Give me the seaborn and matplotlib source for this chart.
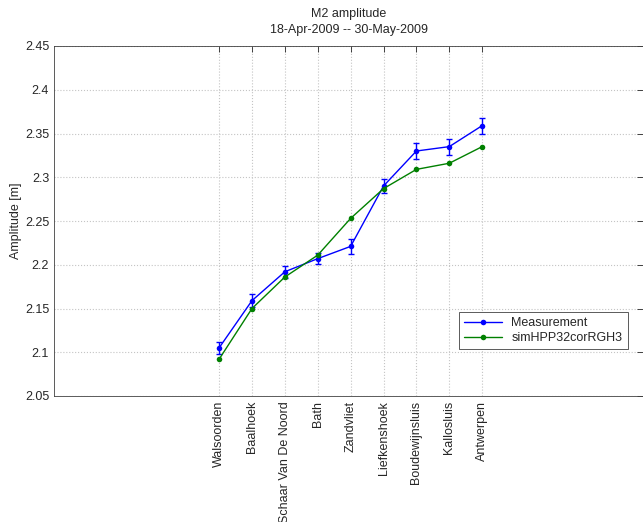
import numpy as np
import pandas as pd
import matplotlib
matplotlib.use('Agg')
import matplotlib.pyplot as plt
import seaborn as sns

stations = ['Walsoorden', 'Baalhoek', 'Schaar Van De Noord', 'Bath', 'Zandvliet',
            'Liefkenshoek', 'Boudewijnsluis', 'Kallosluis', 'Antwerpen']
meas = [2.105, 2.159, 2.192, 2.207, 2.221, 2.290, 2.330, 2.335, 2.359]
meas_err = [0.007, 0.0075, 0.007, 0.006, 0.009, 0.0085, 0.009, 0.009, 0.009]
sim = [2.092, 2.150, 2.186, 2.211, 2.253, 2.287, 2.309, 2.316, 2.335]
yticks = [2.05, 2.1, 2.15, 2.2, 2.25, 2.3, 2.35, 2.4, 2.45]

sns.set_style('white')
plt.rcParams['font.family'] = ['Liberation Sans', 'DejaVu Sans']
plt.rcParams['font.size'] = 9

df = pd.DataFrame({'x': list(range(len(stations))) * 2,
                   'amp': meas + sim,
                   'series': ['Measurement'] * len(stations) + ['simHPP32corRGH3'] * len(stations)})

fig = plt.figure(figsize=(6.43, 5.22), dpi=100)
ax = fig.add_axes([54 / 643, 126 / 522, 589 / 643, 350 / 522])

ax.errorbar(range(len(stations)), meas, yerr=meas_err, fmt='none', ecolor='#0000ff',
            elinewidth=1, capsize=2.5, capthick=1, zorder=3)
sns.lineplot(data=df, x='x', y='amp', hue='series', palette=['#0000ff', '#008000'],
             marker='o', markersize=4, markeredgewidth=0, linewidth=1, ax=ax, zorder=4)

ax.set_xlim(-5.02, 12.89)
ax.set_ylim(2.05, 2.45)
ax.set_xticks(range(len(stations)))
ax.set_xticklabels(stations, rotation=90)
ax.set_yticks(yticks)
ax.set_yticklabels(['%.2f' % v if round(v * 100) % 10 else '%.1f' % v for v in yticks])
ax.grid(True, color='#c4c4c4', linestyle=':', linewidth=0.8)
ax.tick_params(direction='in', top=True, right=True, length=4, width=0.6, labelsize=9)
for s in ax.spines.values():
    s.set_linewidth(0.6)
    s.set_color('#404040')
ax.set_xlabel('')
ax.set_ylabel('Amplitude [m]', fontsize=9, labelpad=2)
ax.set_title('M2 amplitude\n18-Apr-2009 -- 30-May-2009', fontsize=9, linespacing=1.45, pad=9)

leg = ax.legend(loc='upper left', bbox_to_anchor=((459 - 54) / 589, (396 - 312) / 350),
                borderaxespad=0, fancybox=False, framealpha=1, edgecolor='#404040',
                fontsize=9, handlelength=3, borderpad=0.4, labelspacing=0.25)
leg.get_frame().set_linewidth(0.6)

fig.savefig('out.png', dpi=100)
